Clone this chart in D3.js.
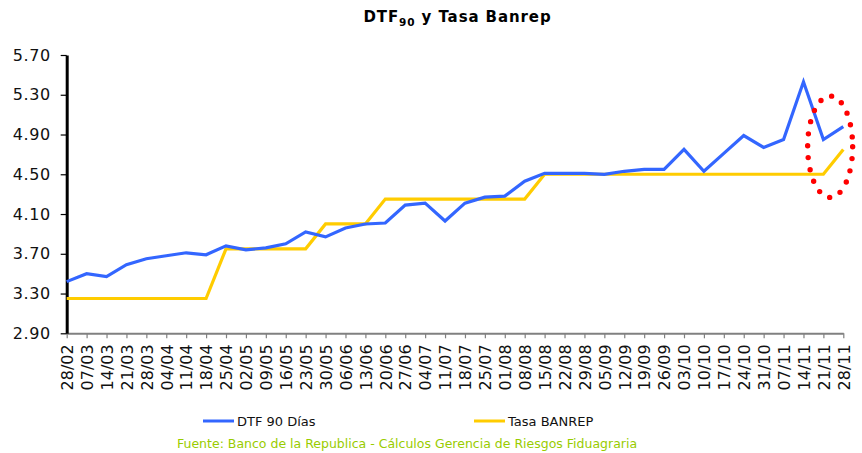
<!DOCTYPE html>
<html>
<head>
<meta charset="utf-8">
<script src="https://cdn.jsdelivr.net/npm/d3@7"></script>
<style>
  html, body { margin: 0; padding: 0; background: #fff; }
  svg { display: block; }
  text { font-family: "DejaVu Sans", Verdana, sans-serif; }
</style>
</head>
<body>
<svg id="chart" width="862" height="453"></svg>
<script>
const categories = ["28/02","07/03","14/03","21/03","28/03","04/04","11/04","18/04","25/04","02/05",
  "09/05","16/05","23/05","30/05","06/06","13/06","20/06","27/06","04/07","11/07",
  "18/07","25/07","01/08","08/08","15/08","22/08","29/08","05/09","12/09","19/09",
  "26/09","03/10","10/10","17/10","24/10","31/10","07/11","14/11","21/11","28/11"];

const dtf90 = [3.42,3.50,3.47,3.59,3.65,3.68,3.71,3.69,3.78,3.74,
  3.76,3.80,3.92,3.87,3.96,4.00,4.01,4.19,4.21,4.03,
  4.21,4.27,4.28,4.43,4.51,4.51,4.51,4.50,4.53,4.55,
  4.55,4.75,4.53,4.71,4.89,4.77,4.85,5.43,4.85,4.98];

const banrep = [3.25,3.25,3.25,3.25,3.25,3.25,3.25,3.25,3.75,3.75,
  3.75,3.75,3.75,4.00,4.00,4.00,4.25,4.25,4.25,4.25,
  4.25,4.25,4.25,4.25,4.50,4.50,4.50,4.50,4.50,4.50,
  4.50,4.50,4.50,4.50,4.50,4.50,4.50,4.50,4.50,4.75];

const yTicks = [2.90,3.30,3.70,4.10,4.50,4.90,5.30,5.70];
const seriesNames = ["DTF 90 Días","Tasa BANREP"];
// highlight annotation (category index position, value centre, half-width in categories, half-height in value)
const highlight = { cx: 38.34, cy: 4.777, rxCat: 1.13, ryVal: 0.51 };

const svg = d3.select("#chart");
const mLeft = 66.7, mRight = 843.3, mTop = 55, mBottom = 333.3;

const x = d3.scalePoint().domain(categories).range([mLeft, mRight]);
const y = d3.scaleLinear().domain([2.9, 5.7]).range([mBottom, mTop]);
const step = x.step();

// Title
const title = svg.append("text").attr("x", 457.5).attr("y", 22)
  .attr("text-anchor", "middle").attr("font-weight", "bold").attr("font-size", 15)
  .attr("letter-spacing", 0.9).attr("fill", "#000");
title.append("tspan").text("DTF");
title.append("tspan").attr("font-size", 10.5).attr("dy", 4).text("90");
title.append("tspan").attr("dy", -4).text(" y Tasa Banrep");

// X axis
const xAxis = svg.append("g").attr("transform", `translate(0,${mBottom})`)
  .call(d3.axisBottom(x).tickSize(5).tickSizeOuter(0));
xAxis.select(".domain").attr("stroke", "#808080").attr("stroke-width", 2);
xAxis.selectAll(".tick line").attr("stroke", "#808080").attr("stroke-width", 1.2);
xAxis.selectAll(".tick text")
  .attr("font-size", 16).attr("fill", "#111")
  .attr("font-family", "DejaVu Sans, Verdana, sans-serif")
  .attr("text-anchor", "end")
  .attr("transform", "rotate(-90)")
  .attr("x", -11).attr("y", 0).attr("dy", "0.36em");

// Y axis
const yAxis = svg.append("g").attr("transform", `translate(${mLeft},0)`)
  .call(d3.axisLeft(y).tickValues(yTicks).tickFormat(d3.format(".2f")).tickSize(6).tickSizeOuter(0));
yAxis.select(".domain").attr("stroke", "#000").attr("stroke-width", 3);
yAxis.selectAll(".tick line").attr("stroke", "#000").attr("stroke-width", 1.2);
yAxis.selectAll(".tick text").attr("font-size", 16).attr("fill", "#111")
  .attr("font-family", "DejaVu Sans, Verdana, sans-serif").attr("x", -16).attr("letter-spacing", 0.6);

// Lines
const line = d3.line().x((d, i) => x(categories[i])).y(d => y(d));
svg.append("path").datum(banrep).attr("d", line)
  .attr("fill", "none").attr("stroke", "#FFCC00").attr("stroke-width", 3.2).attr("stroke-linejoin", "miter");
svg.append("path").datum(dtf90).attr("d", line)
  .attr("fill", "none").attr("stroke", "#3366FF").attr("stroke-width", 3.2).attr("stroke-linejoin", "miter");

// Highlight dotted ellipse
const x0 = x(categories[0]);
svg.append("ellipse")
  .attr("cx", x0 + highlight.cx * step)
  .attr("cy", y(highlight.cy))
  .attr("rx", highlight.rxCat * step)
  .attr("ry", y(highlight.cy - highlight.ryVal) - y(highlight.cy))
  .attr("fill", "none").attr("stroke", "#FF0000").attr("stroke-width", 5.4)
  .attr("stroke-linecap", "round").attr("stroke-dasharray", "0 12");

// Legend
const legend = [
  { name: seriesNames[0], color: "#3366FF", x: 203 },
  { name: seriesNames[1], color: "#FFCC00", x: 474 }
];
legend.forEach(l => {
  svg.append("line").attr("x1", l.x).attr("x2", l.x + 31).attr("y1", 421).attr("y2", 421)
    .attr("stroke", l.color).attr("stroke-width", 3);
  svg.append("text").attr("x", l.x + 34).attr("y", 426).attr("font-size", 13).attr("fill", "#111").text(l.name);
});

// Source
svg.append("text").attr("x", 177).attr("y", 448).attr("font-size", 12.5).attr("fill", "#99CC00")
  .text("Fuente: Banco de la Republica - Cálculos Gerencia de Riesgos Fiduagraria");
</script>
</body>
</html>
